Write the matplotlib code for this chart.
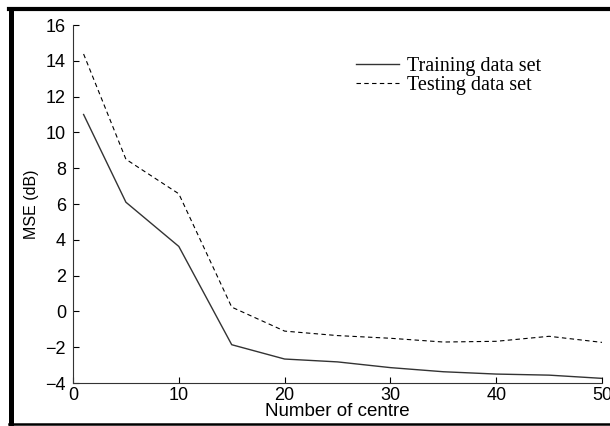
import matplotlib
matplotlib.use("Agg")
from matplotlib import pyplot as plt
from matplotlib.lines import Line2D

# number of centres
centres = [1, 5, 10, 15, 20, 25, 30, 35, 40, 45, 50]
# MSE (dB)
mse_train = [11.0, 6.1, 3.63, -1.86, -2.66, -2.82, -3.14, -3.37, -3.5, -3.56, -3.74]
mse_test = [14.38, 8.5, 6.57, 0.24, -1.1, -1.35, -1.5, -1.71, -1.67, -1.39, -1.73]

xticks = [0, 10, 20, 30, 40, 50]
yticks = [-4, -2, 0, 2, 4, 6, 8, 10, 12, 14, 16]

plt.rcParams['font.family'] = ['Liberation Sans', 'DejaVu Sans']

fig = plt.figure(figsize=(6.1, 4.26), dpi=100)
ax = fig.add_axes([0.1197, 0.1009, 0.8672, 0.8404])

ax.plot(centres, mse_train, color="#333333", lw=1.0, label="Training data set")
ax.plot(centres, mse_test, color="black", lw=0.8, linestyle=(0, (4, 3)),
        label="Testing data set")

ax.set_xlim(0, 50)
ax.set_ylim(-4, 16)
ax.set_xticks(xticks)
ax.set_yticks(yticks)
ax.tick_params(direction="in", length=4, width=0.8, labelsize=13, pad=3)
ax.tick_params(axis="y", pad=5)
for s in ("top", "right"):
    ax.spines[s].set_visible(False)
for s in ("left", "bottom"):
    ax.spines[s].set_linewidth(0.8)
    ax.spines[s].set_color("#333333")

ax.set_xlabel("Number of centre", fontsize=13.5, labelpad=-1)
ax.set_ylabel("MSE (dB)", fontsize=11.5, labelpad=5)

leg = ax.legend(loc="upper left", bbox_to_anchor=(0.535, 0.912), frameon=False,
                prop={"family": "Liberation Serif", "size": 14.5},
                handlelength=2.15, handletextpad=0.4, labelspacing=0.0,
                borderpad=0, borderaxespad=0)

# thick black frame around the picture
fig.add_artist(Line2D([0.0188, 0.0188], [0.003, 0.978], transform=fig.transFigure,
                      color="black", lw=3.6))
fig.add_artist(Line2D([0.014, 1.0], [0.978, 0.978], transform=fig.transFigure,
                      color="black", lw=3.0))
fig.add_artist(Line2D([0.014, 1.0], [0.004, 0.004], transform=fig.transFigure,
                      color="black", lw=1.8))

fig.savefig("out.png", dpi=100)
